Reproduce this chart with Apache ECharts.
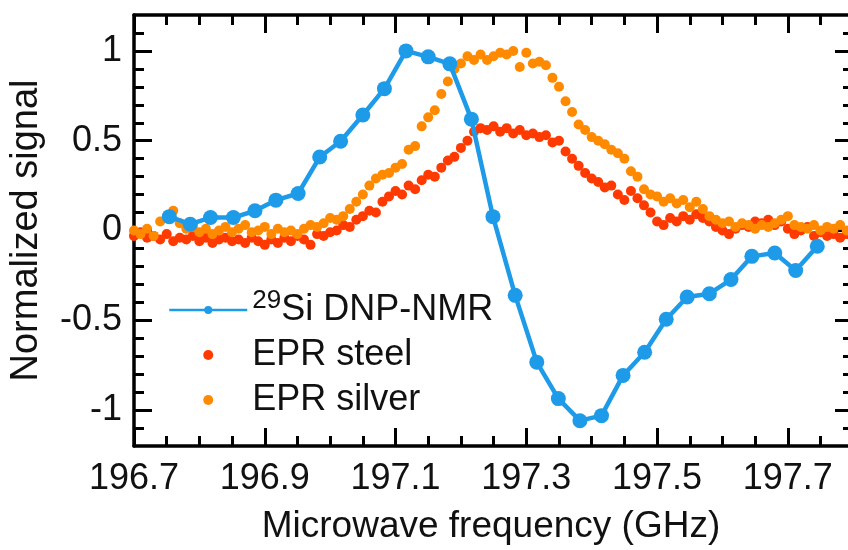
<!DOCTYPE html>
<html>
<head>
<meta charset="utf-8">
<script src="https://cdn.jsdelivr.net/npm/echarts@6/dist/echarts.min.js"></script>
<style>
  html, body { margin: 0; padding: 0; background: #fff; }
  #chart { width: 848px; height: 550px; }
</style>
</head>
<body>
<div id="chart"></div>
<script>
var FONT = 'Liberation Sans, Arial, Helvetica, sans-serif';

// 29Si DNP-NMR enhancement vs microwave frequency
var nmrFreq = [196.754, 196.786, 196.817, 196.852, 196.885, 196.917, 196.951, 196.984, 197.016, 197.050,
               197.083, 197.116, 197.150, 197.183, 197.216, 197.249, 197.283, 197.316, 197.349, 197.382,
               197.415, 197.448, 197.481, 197.514, 197.546, 197.580, 197.613, 197.645, 197.680, 197.712, 197.745];
var nmrSignal = [0.077, 0.035, 0.072, 0.072, 0.110, 0.169, 0.206, 0.409, 0.497, 0.643,
                 0.790, 1.000, 0.967, 0.928, 0.620, 0.077, -0.361, -0.733, -0.936, -1.059,
                 -1.031, -0.807, -0.678, -0.494, -0.370, -0.352, -0.273, -0.144, -0.125, -0.223, -0.088];

// EPR sweeps (same frequency grid for both samples)
var eprFreq = [196.70, 196.71, 196.72, 196.73, 196.74, 196.75, 196.76, 196.77, 196.78, 196.79,
               196.80, 196.81, 196.82, 196.83, 196.84, 196.85, 196.86, 196.87, 196.88, 196.89,
               196.90, 196.91, 196.92, 196.93, 196.94, 196.95, 196.96, 196.97, 196.98, 196.99,
               197.00, 197.01, 197.02, 197.03, 197.04, 197.05, 197.06, 197.07, 197.08, 197.09,
               197.10, 197.11, 197.12, 197.13, 197.14, 197.15, 197.16, 197.17, 197.18, 197.19,
               197.20, 197.21, 197.22, 197.23, 197.24, 197.25, 197.26, 197.27, 197.28, 197.29,
               197.30, 197.31, 197.32, 197.33, 197.34, 197.35, 197.36, 197.37, 197.38, 197.39,
               197.40, 197.41, 197.42, 197.43, 197.44, 197.45, 197.46, 197.47, 197.48, 197.49,
               197.50, 197.51, 197.52, 197.53, 197.54, 197.55, 197.56, 197.57, 197.58, 197.59,
               197.60, 197.61, 197.62, 197.63, 197.64, 197.65, 197.66, 197.67, 197.68, 197.69,
               197.70, 197.71, 197.72, 197.73, 197.74, 197.75, 197.76, 197.77, 197.78, 197.79];
var steelSignal = [-0.03, -0.01, -0.04, -0.03, -0.05, -0.02, -0.06, -0.04, -0.05, -0.03,
                   -0.06, -0.04, -0.07, -0.05, -0.04, -0.06, -0.05, -0.07, -0.04, -0.06,
                   -0.08, -0.05, -0.07, -0.04, -0.06, -0.03, -0.05, -0.08, -0.02, -0.03,
                   -0.01, 0.00, 0.03, 0.02, 0.06, 0.08, 0.11, 0.10, 0.16, 0.19,
                   0.22, 0.20, 0.25, 0.23, 0.28, 0.31, 0.30, 0.35, 0.39, 0.41,
                   0.46, 0.50, 0.55, 0.57, 0.56, 0.58, 0.55, 0.57, 0.54, 0.56,
                   0.53, 0.54, 0.52, 0.53, 0.49, 0.50, 0.44, 0.40, 0.36, 0.32,
                   0.29, 0.27, 0.24, 0.25, 0.20, 0.17, 0.22, 0.18, 0.14, 0.10,
                   0.05, 0.03, 0.07, 0.05, 0.08, 0.06, 0.09, 0.07, 0.05, 0.02,
                   0.00, -0.02, 0.01, 0.03, 0.02, 0.05, 0.04, 0.06, 0.03, 0.05,
                   0.01, -0.02, 0.00, 0.02, -0.03, -0.01, -0.03, -0.02, -0.04, -0.02];
var silverSignal = [0.00, -0.02, 0.01, -0.03, 0.05, 0.07, 0.11, 0.04, 0.01, 0.02,
                    -0.01, 0.01, -0.02, 0.00, 0.02, -0.01, 0.01, 0.03, -0.01, 0.00,
                    0.02, -0.02, 0.01, -0.01, 0.00, -0.02, 0.01, 0.03, 0.02, 0.04,
                    0.07, 0.06, 0.08, 0.12, 0.16, 0.20, 0.25, 0.29, 0.31, 0.32,
                    0.35, 0.37, 0.45, 0.47, 0.58, 0.63, 0.67, 0.76, 0.83, 0.90,
                    0.93, 0.97, 0.95, 0.98, 0.95, 0.97, 0.99, 0.98, 1.00, 0.91,
                    0.99, 0.93, 0.94, 0.92, 0.85, 0.80, 0.72, 0.66, 0.59, 0.56,
                    0.52, 0.50, 0.48, 0.45, 0.43, 0.40, 0.33, 0.30, 0.23, 0.20,
                    0.19, 0.16, 0.18, 0.15, 0.17, 0.13, 0.16, 0.12, 0.08, 0.06,
                    0.04, 0.05, 0.02, 0.04, 0.03, 0.01, 0.03, 0.02, 0.04, 0.06,
                    0.08, 0.03, 0.02, 0.01, 0.03, 0.00, 0.02, 0.01, 0.03, 0.00];

var xMajor = [196.7, 196.9, 197.1, 197.3, 197.5, 197.7];
var xMinor = [196.75, 196.8, 196.85, 196.95, 197.0, 197.05, 197.15, 197.2, 197.25,
              197.35, 197.4, 197.45, 197.55, 197.6, 197.65, 197.75];
var yMajor = [-1, -0.5, 0, 0.5, 1];
var yMinor = [-1.1, -0.9, -0.8, -0.7, -0.6, -0.4, -0.3, -0.2, -0.1,
              0.1, 0.2, 0.3, 0.4, 0.6, 0.7, 0.8, 0.9, 1.1];

// the frame runs a few pixels past the right edge of the picture
var X_MIN = 196.7, X_MAX = 197.792, Y_MIN = -1.2, Y_MAX = 1.2;

function pair(a, b) { return eprFreq.map(function (f, i) { return [f, b[i]]; }); }

// one axis per side for major ticks and one for minor ticks (ticks point inward)
function xAx(pos, ticks, len, withLabels) {
    return {
        type: 'value', position: pos, min: X_MIN, max: X_MAX,
        axisLine: { show: len > 12, onZero: false, lineStyle: { color: '#000', width: 3.5 } },
        axisTick: { show: true, inside: true, length: len, customValues: ticks, lineStyle: { color: '#000', width: 3 } },
        axisLabel: withLabels ? {
            show: true, customValues: ticks, margin: 15, color: '#111',
            fontSize: 36, fontFamily: FONT, formatter: function (v) { return v.toFixed(1); }
        } : { show: false },
        splitLine: { show: false }
    };
}
function yAx(pos, ticks, len, withLabels, line) {
    return {
        type: 'value', position: pos, min: Y_MIN, max: Y_MAX,
        axisLine: { show: line, onZero: false, lineStyle: { color: '#000', width: 3.5 } },
        axisTick: { show: true, inside: true, length: len, customValues: ticks, lineStyle: { color: '#000', width: 3 } },
        axisLabel: withLabels ? {
            show: true, customValues: ticks, margin: 12, color: '#111',
            fontSize: 36, fontFamily: FONT, formatter: function (v) { return String(v); }
        } : { show: false },
        splitLine: { show: false }
    };
}

var xAxes = [xAx('bottom', xMajor, 18, true), xAx('bottom', xMinor, 10, false),
             xAx('top', xMajor, 18, false), xAx('top', xMinor, 10, false)];
xAxes[0].name = 'Microwave frequency (GHz)';
xAxes[0].nameLocation = 'middle';
xAxes[0].nameGap = 62;
xAxes[0].nameTextStyle = { fontSize: 37, fontFamily: FONT, color: '#111' };

var yAxes = [yAx('left', yMajor, 18, true, true), yAx('left', yMinor, 10, false, false),
             yAx('right', yMajor, 13, false, false), yAx('right', yMinor, 5, false, false)];
yAxes[0].name = 'Normalized signal';
yAxes[0].nameLocation = 'middle';
yAxes[0].nameGap = 88;
yAxes[0].nameTextStyle = { fontSize: 38, fontFamily: FONT, color: '#111' };

var chart = echarts.init(document.getElementById('chart'));
var option = {
    animation: false,
    backgroundColor: '#fff',
    grid: { left: 131, right: 0, top: 15, bottom: 101, containLabel: false },
    legend: {
        orient: 'vertical', left: 163, top: 283,
        itemWidth: 78, itemHeight: 10, itemGap: 9,
        data: ['29Si DNP-NMR', 'EPR steel', 'EPR silver'],
        lineStyle: { width: 2.5 },
        textStyle: {
            fontSize: 36, fontFamily: FONT, color: '#111',
            rich: { sup: { fontSize: 26, fontFamily: FONT, color: '#111', padding: [0, 0, 18, 0] } }
        },
        formatter: function (name) {
            return name === '29Si DNP-NMR' ? '{sup|29}Si DNP-NMR' : name;
        }
    },
    xAxis: xAxes,
    yAxis: yAxes,
    series: [
        {
            name: 'EPR steel', type: 'scatter', symbolSize: 10,
            itemStyle: { color: '#FF3A00', opacity: 1 },
            data: pair(eprFreq, steelSignal)
        },
        {
            name: 'EPR silver', type: 'scatter', symbolSize: 10,
            itemStyle: { color: '#FF8A00', opacity: 1 },
            data: pair(eprFreq, silverSignal)
        },
        {
            name: '29Si DNP-NMR', type: 'line', symbol: 'circle', symbolSize: 15, showAllSymbol: true,
            lineStyle: { color: '#1E9BE8', width: 4.5 },
            itemStyle: { color: '#1E9BE8' },
            data: nmrFreq.map(function (f, i) { return [f, nmrSignal[i]]; })
        }
    ]
};
chart.setOption(option);
</script>
</body>
</html>
